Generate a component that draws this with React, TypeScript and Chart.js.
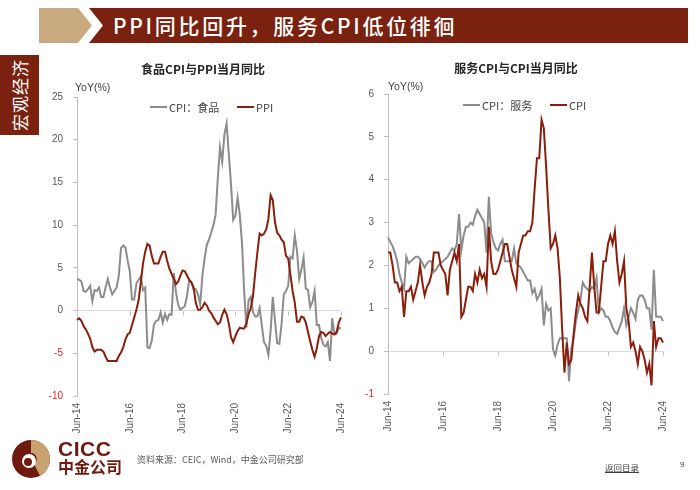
import React, { useEffect, useRef } from "react";
import { Chart, registerables } from "chart.js";
Chart.register(...registerables);

// ---- categories (monthly, Jun-14 .. Jun-24) ----
const monthNames = ["Jan", "Feb", "Mar", "Apr", "May", "Jun", "Jul", "Aug", "Sep", "Oct", "Nov", "Dec"];
const categories: string[] = [];
for (let y = 2014; y <= 2024; y++) {
  for (let m = 0; m < 12; m++) {
    if (y === 2014 && m < 5) continue;
    if (y === 2024 && m > 5) continue;
    categories.push(monthNames[m] + "-" + String(y).slice(2));
  }
}
const tickEvery = 24;

// ---- left chart: CPI food vs PPI, YoY % ----
const cpiFood = [
  3.7, 3.6, 3.4, 2.3, 2.2, 2.5, 2.9,
  1.1, 2.4, 2.3, 2.7, 1.6, 1.6, 2.7, 3.7, 2.7, 1.9, 2.3, 2.7,
  4.1, 7.3, 7.6, 7.4, 5.9, 4.6, 1.3, 1.3, 3.2, 3.6, 4.0, 2.4,
  2.7, -4.3, -4.4, -3.5, -1.6, -1.2, -1.1, -0.2, -1.4, -0.4, -1.1, -0.4,
  -0.5, 4.4, 2.1, 0.7, 0.1, 0.3, 0.5, 1.7, 3.6, 3.3, 2.5, 2.5,
  1.9, 0.7, 4.1, 6.1, 7.7, 8.3, 9.1, 10.0, 11.2, 15.5, 19.1, 17.4,
  20.6, 21.9, 18.3, 14.8, 10.6, 11.1, 13.2, 11.2, 7.9, 2.2, -2.0, 1.2,
  1.6, -0.2, -0.7, -0.7, 0.3, -1.7, -3.7, -4.1, -5.2, -2.4, 1.6, -1.2,
  -3.8, -3.9, -1.5, 1.9, 2.3, 2.9, 6.3, 6.1, 8.8, 7.0, 3.7, 4.8,
  6.2, 2.6, 2.4, 0.4, 1.0, 2.3, -1.7, -1.7, -3.2, -4.0, -4.2, -3.7,
  -5.9, -0.9, -2.7, -2.7, -2.0, -2.1,
];
const ppi = [
  -1.1, -0.9, -1.2, -1.8, -2.2, -2.7, -3.3,
  -4.3, -4.8, -4.6, -4.6, -4.6, -4.8, -5.4, -5.9, -5.9, -5.9, -5.9, -5.9,
  -5.3, -4.9, -4.3, -3.4, -2.8, -2.6, -1.7, -0.8, 0.1, 1.2, 3.3, 5.5,
  6.9, 7.8, 7.6, 6.4, 5.5, 5.5, 5.5, 6.3, 6.9, 6.9, 5.8, 4.9,
  4.3, 3.7, 3.1, 3.4, 4.1, 4.7, 4.6, 4.1, 3.6, 3.3, 2.7, 0.9,
  0.1, 0.1, 0.4, 0.9, 0.6, 0.0, -0.3, -0.8, -1.2, -1.6, -1.4, -0.5,
  0.1, -0.4, -1.5, -3.1, -3.7, -3.0, -2.4, -2.0, -2.1, -2.1, -1.5, -0.4,
  0.3, 1.7, 4.4, 6.8, 9.0, 8.8, 9.0, 9.5, 10.7, 13.5, 12.9, 10.3,
  9.1, 8.8, 8.3, 8.0, 6.4, 6.1, 4.2, 2.3, 0.9, -1.3, -1.3, -0.7,
  -0.8, -1.4, -2.5, -3.6, -4.6, -5.4, -4.4, -3.0, -2.5, -2.6, -3.0, -2.7,
  -2.5, -2.7, -2.8, -2.5, -1.4, -0.8,
];

// ---- right chart: CPI services vs CPI, YoY % ----
const cpiServices = [
  2.65, 2.55, 2.45, 2.3, 2.1, 1.8, 1.6,
  1.45, 2.2, 2.05, 2.1, 2.15, 2.2, 2.2, 2.15, 2.05, 1.95, 2.05, 2.1,
  2.1, 1.85, 1.9, 2.0, 2.05, 2.1, 2.15, 2.2, 2.3, 2.4, 2.35, 2.5,
  3.2, 2.35, 2.7, 2.9, 2.9, 3.0, 2.95, 3.15, 3.3, 3.2, 3.1, 3.0,
  2.3, 3.6, 2.75, 2.55, 2.4, 2.35, 2.5, 2.6, 2.1, 2.1, 2.1, 2.1,
  2.4, 2.05, 2.0, 1.95, 1.85, 1.75, 1.65, 1.65, 1.35, 1.45, 1.2, 1.3,
  1.45, 0.6, 1.1, 0.95, 1.0, 0.05, -0.1, 0.15, 0.3, 0.3, 0.3, 0.3,
  -0.7, 0.05, 0.3, 0.7, 0.95, 1.2, 1.6, 1.5, 1.45, 1.4, 1.5, 1.45,
  1.7, 0.9, 1.0, 0.95, 0.8, 0.8, 0.7, 0.55, 0.45, 0.4, 0.55, 0.7,
  1.0, 0.6, 0.8, 1.0, 0.9, 0.75, 1.2, 1.3, 1.3, 1.2, 1.0, 1.0,
  0.5, 1.9, 0.8, 0.8, 0.8, 0.7,
];
const cpi = [
  2.3, 2.3, 2.0, 1.6, 1.6, 1.4, 1.5,
  0.8, 1.4, 1.4, 1.5, 1.2, 1.4, 1.6, 2.0, 1.6, 1.3, 1.5, 1.6,
  1.8, 2.3, 2.3, 2.3, 2.0, 1.9, 1.8, 1.3, 1.9, 2.1, 2.3, 2.1,
  2.5, 0.8, 0.9, 1.2, 1.5, 1.5, 1.4, 1.8, 1.6, 1.9, 1.7, 1.8,
  1.5, 2.9, 2.1, 1.8, 1.8, 1.9, 2.1, 2.3, 2.5, 2.5, 2.2, 1.9,
  1.7, 1.5, 2.3, 2.5, 2.7, 2.7, 2.8, 2.8, 3.0, 3.8, 4.5, 4.5,
  5.4, 5.2, 4.3, 3.3, 2.4, 2.5, 2.7, 2.4, 1.7, 0.5, -0.5, 0.2,
  -0.3, -0.2, 0.4, 0.9, 1.3, 1.1, 1.0, 0.8, 0.7, 1.5, 2.3, 1.5,
  0.9, 0.9, 1.5, 2.1, 2.1, 2.5, 2.7, 2.5, 2.8, 2.1, 1.6, 1.8,
  2.1, 1.0, 0.7, 0.1, 0.2, 0.0, -0.3, 0.1, 0.0, -0.2, -0.5, -0.3,
  -0.8, 0.7, 0.1, 0.3, 0.3, 0.2,
];

const GRAY = "#8c8c8c";
const RED = "#8a1e0c";
const BROWN = "#7a220f";
const TAN = "#c9a97f";

const zeroTicks = {
  id: "zeroTicks",
  beforeDatasetsDraw(chart: any) {
    const { ctx, scales } = chart;
    const x = scales.x;
    const y = scales.y;
    const y0 = Math.round(y.getPixelForValue(0)) + 0.5;
    ctx.save();
    ctx.strokeStyle = "#bfbfbf";
    ctx.lineWidth = 1;
    for (let i = 0; i < categories.length; i += tickEvery) {
      const px = Math.round(x.getPixelForValue(i)) + 0.5;
      ctx.beginPath();
      ctx.moveTo(px, y0);
      ctx.lineTo(px, y0 + 4);
      ctx.stroke();
    }
    ctx.restore();
  },
};

type LineChartProps = {
  left: number; top: number; width: number; height: number;
  pad: { top: number; right: number };
  yWidth: number; xHeight: number;
  yMin: number; yMax: number; yStep: number;
  series: { data: number[]; color: string }[];
};

function LineChart(p: LineChartProps) {
  const ref = useRef<HTMLCanvasElement>(null);
  useEffect(() => {
    if (!ref.current) return;
    const chart = new Chart(ref.current, {
      type: "line",
      data: {
        labels: categories,
        datasets: p.series.map((s) => ({
          data: s.data,
          borderColor: s.color,
          backgroundColor: s.color,
          borderWidth: 2,
          pointRadius: 0,
          tension: 0,
          fill: false,
        })),
      },
      options: {
        responsive: false,
        animation: false,
        events: [],
        layout: { padding: { left: 0, top: p.pad.top, right: p.pad.right, bottom: 0 } },
        plugins: { legend: { display: false }, tooltip: { enabled: false }, title: { display: false } },
        scales: {
          x: {
            type: "category",
            offset: false,
            grid: { display: false, drawTicks: false },
            border: { display: false },
            ticks: {
              autoSkip: false,
              maxRotation: 90,
              minRotation: 90,
              padding: 7,
              color: "#595959",
              font: { size: 10, family: "'Liberation Sans', Arial, sans-serif" },
              callback: (_v: any, i: number) => (i % tickEvery === 0 ? categories[i] : null),
            },
            afterFit: (s: any) => { s.height = p.xHeight; },
          },
          y: {
            min: p.yMin,
            max: p.yMax,
            ticks: {
              stepSize: p.yStep,
              padding: 10,
              color: (c: any) => (c.tick && c.tick.value < 0 ? "#e8202a" : "#595959"),
              font: { size: 10, family: "'Liberation Sans', Arial, sans-serif" },
            },
            grid: {
              color: (c: any) => (c.tick && c.tick.value === 0 ? "#d9d9d9" : "rgba(0,0,0,0)"),
              tickColor: "#bfbfbf",
              tickLength: 4,
              drawTicks: true,
              lineWidth: 1,
            },
            border: { display: true, color: "#bfbfbf", width: 1 },
            afterFit: (s: any) => { s.width = p.yWidth; },
          },
        },
      },
      plugins: [zeroTicks],
    } as any);
    return () => chart.destroy();
  }, []);
  return (
    <canvas
      ref={ref}
      width={p.width}
      height={p.height}
      style={{ position: "absolute", left: p.left, top: p.top, width: p.width, height: p.height }}
    />
  );
}

function LegendItem({ x, y, color, label }: { x: number; y: number; color: string; label: string }) {
  return (
    <div
      style={{
        position: "absolute", left: x, top: y - 8, height: 16, display: "flex", alignItems: "center",
        fontSize: 11, color: "#404040", fontFamily: "'Noto Sans CJK SC', sans-serif", whiteSpace: "nowrap",
      }}
    >
      <span style={{ display: "inline-block", width: 17, height: 2, background: color, marginRight: 2 }} />
      {label}
    </div>
  );
}

const txt = (extra: React.CSSProperties): React.CSSProperties => ({
  position: "absolute", whiteSpace: "nowrap", ...extra,
});

export default function App() {
  return (
    <div style={{ position: "absolute", left: 0, top: 0, width: 700, height: 490, background: "#fff", overflow: "hidden" }}>
      {/* header */}
      <svg width={700} height={50} style={{ position: "absolute", left: 0, top: 0 }}>
        <polygon points="39,8 78,8 92,25.5 78,43 39,43" fill={TAN} />
        <polygon points="89,8 688,8 688,43 89,43 103,25.5" fill={BROWN} />
      </svg>
      <div style={txt({ left: 113, top: 8, height: 35, lineHeight: "35px", fontSize: 21, color: "#fff", letterSpacing: 2.7, fontFamily: "'Noto Sans CJK SC', sans-serif", fontWeight: 500 })}>
        PPI同比回升，服务CPI低位徘徊
      </div>
      {/* side tag */}
      <div style={{ position: "absolute", left: 0, top: 55, width: 39, height: 80, background: BROWN }} />
      <div style={txt({ left: 19.5, top: 95, width: 80, height: 22, lineHeight: "22px", textAlign: "center", transform: "translate(-50%,-50%) rotate(-90deg)", color: "#fff", fontSize: 17, letterSpacing: 1, fontFamily: "'Noto Sans CJK SC', sans-serif" })}>
        宏观经济
      </div>

      {/* charts */}
      <LineChart left={0} top={60} width={360} height={400} pad={{ top: 37, right: 8 }} yWidth={77} xHeight={64}
        yMin={-10} yMax={25} yStep={5}
        series={[{ data: ppi, color: RED }, { data: cpiFood, color: GRAY }]} />
      <LineChart left={350} top={60} width={340} height={400} pad={{ top: 34, right: 27 }} yWidth={38} xHeight={66}
        yMin={-1} yMax={6} yStep={1}
        series={[{ data: cpi, color: RED }, { data: cpiServices, color: GRAY }]} />

      {/* chart titles */}
      <div style={txt({ left: 103, top: 60, width: 200, textAlign: "center", fontSize: 12, fontWeight: 700, color: "#262626", fontFamily: "'Noto Sans CJK SC', sans-serif" })}>
        食品CPI与PPI当月同比
      </div>
      <div style={txt({ left: 416, top: 59, width: 200, textAlign: "center", fontSize: 12, fontWeight: 700, color: "#262626", fontFamily: "'Noto Sans CJK SC', sans-serif" })}>
        服务CPI与CPI当月同比
      </div>
      <div style={txt({ left: 75, top: 81, fontSize: 10.5, color: "#404040", fontFamily: "'Liberation Sans', Arial, sans-serif" })}>YoY(%)</div>
      <div style={txt({ left: 388, top: 80, fontSize: 10.5, color: "#404040", fontFamily: "'Liberation Sans', Arial, sans-serif" })}>YoY(%)</div>

      {/* legends */}
      <LegendItem x={150} y={107} color={GRAY} label="CPI：食品" />
      <LegendItem x={237} y={107} color={RED} label="PPI" />
      <LegendItem x={463} y={105} color={GRAY} label="CPI：服务" />
      <LegendItem x={550} y={105} color={RED} label="CPI" />

      {/* footer */}
      <svg width={42} height={42} style={{ position: "absolute", left: 10, top: 438 }}>
        <circle cx={21} cy={21} r={19} fill="#6e1a0e" />
        <path d="M21,2 A19,19 0 0 1 40,21 A19,19 0 0 1 30,37.7 L24,26 A6,6 0 0 0 21,15 Z" fill="#c9a272" />
        <circle cx={19} cy={23} r={7} fill="#fff" />
        <circle cx={18} cy={24} r={4} fill="#6e1a0e" />
      </svg>
      <div style={txt({ left: 58, top: 437, fontSize: 21, fontWeight: 700, color: "#6e1a0e", fontFamily: "'Liberation Sans', Arial, sans-serif", letterSpacing: 0.5 })}>CICC</div>
      <div style={txt({ left: 58, top: 456, fontSize: 16, fontWeight: 700, color: "#6e1a0e", fontFamily: "'Noto Sans CJK SC', sans-serif", lineHeight: "20px" })}>中金公司</div>
      <div style={txt({ left: 137, top: 453, fontSize: 9, color: "#595959", fontFamily: "'Noto Sans CJK SC', sans-serif" })}>资料来源：CEIC，Wind，中金公司研究部</div>
      <div style={txt({ left: 605, top: 461, fontSize: 8.5, color: "#404040", textDecoration: "underline", fontFamily: "'Noto Sans CJK SC', sans-serif" })}>返回目录</div>
      <div style={txt({ left: 680, top: 460, fontSize: 8, color: "#404040", fontFamily: "'Liberation Sans', Arial, sans-serif" })}>9</div>
    </div>
  );
}
